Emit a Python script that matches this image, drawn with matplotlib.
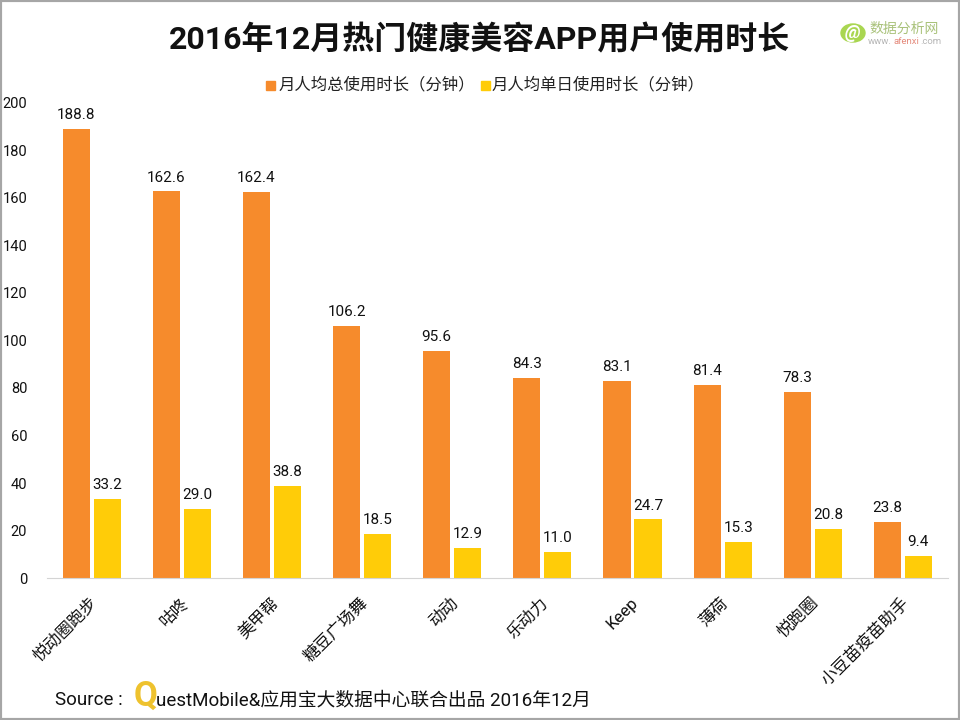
#!/usr/bin/env python3

from matplotlib import pyplot as plt
from matplotlib.patches import Circle, Rectangle
from matplotlib.transforms import ScaledTranslation
import numpy as np

plt.rcParams['font.family'] = ['Roboto', 'Noto Sans CJK SC', 'DejaVu Sans']

apps = ['悦动圈跑步', '咕咚', '美甲帮', '糖豆广场舞', '动动', '乐动力', 'Keep', '薄荷', '悦跑圈', '小豆苗疫苗助手']
total_minutes = [188.8, 162.6, 162.4, 106.2, 95.6, 84.3, 83.1, 81.4, 78.3, 23.8]
daily_minutes = [33.2, 29.0, 38.8, 18.5, 12.9, 11.0, 24.7, 15.3, 20.8, 9.4]
y_ticks = [0, 20, 40, 60, 80, 100, 120, 140, 160, 180, 200]

title = '2016年12月热门健康美容APP用户使用时长'
total_label = '月人均总使用时长（分钟）'
daily_label = '月人均单日使用时长（分钟）'

ORANGE = '#f68b2c'
YELLOW = '#ffcc08'
W, H = 960, 720

fig = plt.figure(figsize=(W / 100, H / 100), dpi=100)
ax = fig.add_axes([46.6 / W, 1 - 578.2 / H, (948 - 46.6) / W, (578.2 - 102.5) / H])

x = np.arange(len(apps))
width = 0.3
bars1 = ax.bar(x - 0.172, total_minutes, width, color=ORANGE)
bars2 = ax.bar(x + 0.172, daily_minutes, width, color=YELLOW)
ax.bar_label(bars1, fmt='%.1f', padding=5, fontsize=11, color='#111111')
ax.bar_label(bars2, fmt='%.1f', padding=5, fontsize=11, color='#111111')

ax.set_xlim(-0.5, len(apps) - 0.5)
ax.set_ylim(0, 200)
ax.set_yticks(y_ticks)
ax.set_xticks(x, apps, rotation=45, ha='right', rotation_mode='anchor', fontsize=12)
ax.tick_params(axis='both', length=0, colors='#111111')
ax.tick_params(axis='x', pad=12)
ax.tick_params(axis='y', labelsize=10.5, pad=14)
# labels sit a little left of the group centre in the original
shift = ScaledTranslation(-2 / 100, 0, fig.dpi_scale_trans)
for label in ax.get_xticklabels():
    label.set_transform(label.get_transform() + shift)
for side in ['top', 'left', 'right']:
    ax.spines[side].set_visible(False)
ax.spines['bottom'].set_color('#d4d4d4')

# title and hand placed legend
fig.text(480 / W, 1 - 40 / H, title, ha='center', va='center', fontsize=23, fontweight='bold', color='#111111')
fig.add_artist(Rectangle((266 / W, 1 - 90 / H), 9 / W, 9 / H, transform=fig.transFigure, color=ORANGE))
fig.text(279 / W, 1 - 85 / H, total_label, va='center', fontsize=11.8, color='#222222')
fig.add_artist(Rectangle((481 / W, 1 - 90 / H), 9 / W, 9 / H, transform=fig.transFigure, color=YELLOW))
fig.text(492 / W, 1 - 85 / H, daily_label, va='center', fontsize=11.8, color='#222222')

# watermark
fig.add_artist(Circle((853 / W, 1 - 33 / H), 0.0125, transform=fig.transFigure, color='#a9d651'))
fig.text(853 / W, 1 - 33 / H, '@', ha='center', va='center', fontsize=13, fontweight='bold', style='italic', color='white')
fig.text(869 / W, 1 - 29 / H, '数据分析网', va='center', fontsize=10, color='#a9c27a')
fig.text(868 / W, 1 - 41.5 / H, 'www.', va='center', fontsize=6.8, color='#b5b5b5')
fig.text(893 / W, 1 - 41.5 / H, 'afenxi', va='center', fontsize=6.8, color='#e58a7c')
fig.text(920 / W, 1 - 41.5 / H, '.com', va='center', fontsize=6.8, color='#b5b5b5')

# source line
fig.text(55 / W, 1 - 700 / H, 'Source :', va='center', fontsize=13.5, color='#111111')
fig.text(134 / W, 1 - 696 / H, 'Q', va='center', fontsize=25, fontweight='bold', color='#eec22e')
fig.text(156 / W, 1 - 700 / H, 'uestMobile&应用宝大数据中心联合出品 2016年12月', va='center', fontsize=13.5, color='#111111')

# image border
fig.add_artist(Rectangle((0, 0), 1, 1, transform=fig.transFigure, fill=False, edgecolor='#a6a6a6', linewidth=3))

plt.savefig('out.png', dpi=100)
plt.close()
